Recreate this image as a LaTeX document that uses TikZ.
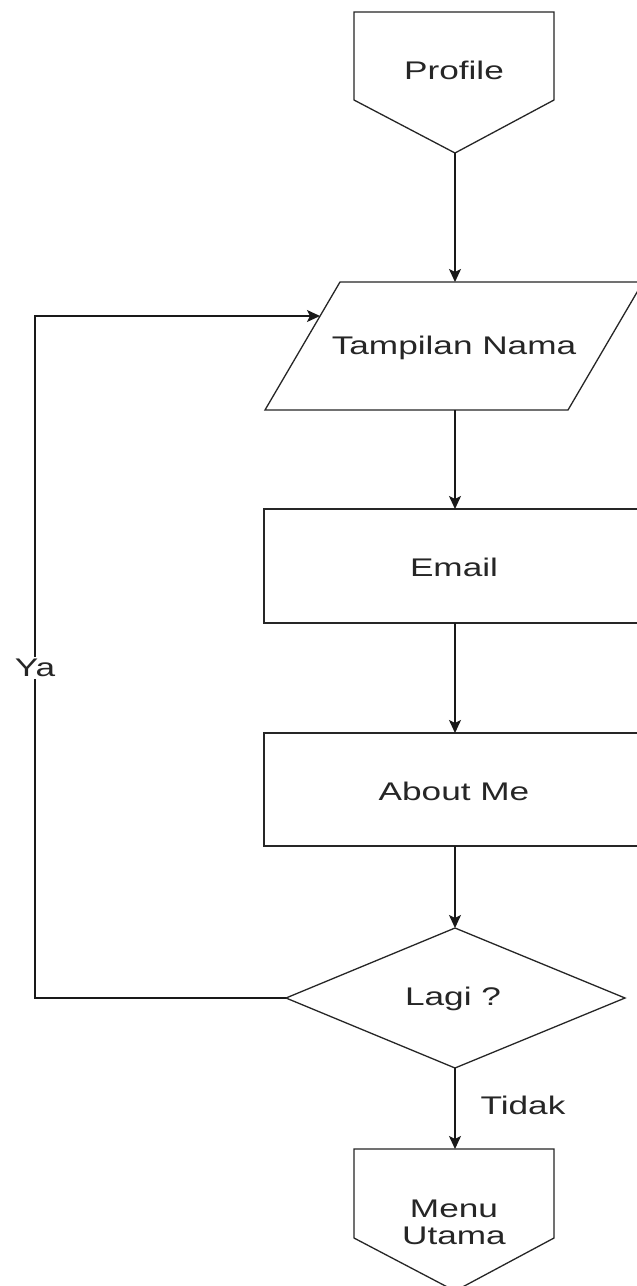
\documentclass[tikz,border=0pt]{standalone}
\usepackage{fontspec}
\setmainfont{Liberation Sans}
\usetikzlibrary{arrows.meta}
\newcommand\sx[1]{\scalebox{1.38}[1]{#1}}
\begin{document}
\begin{tikzpicture}[x=1pt,y=-1pt,
  shapeline/.style={draw=black!85, line width=1.3pt, line join=miter},
  conn/.style={draw=black!90, line width=1.4pt, -{Stealth[length=13pt,width=12pt,inset=3pt]}},
  lbl/.style={text=black!85, font=\fontsize{25.5}{27}\selectfont, inner sep=1pt, align=center},
  edgelbl/.style={lbl, fill=white, inner sep=2pt}]
\clip (0,0) rectangle (637,1286);
\fill[white] (0,0) rectangle (637,1286);
% shapes
\draw[shapeline] (354,12) -- (554,12) -- (554,100) -- (455,153) -- (354,100) -- cycle;
\draw[shapeline] (340,282) -- (643,282) -- (568,410) -- (265,410) -- cycle;
\draw[shapeline] (264,509) rectangle (646,623);
\draw[shapeline] (264,733) rectangle (646,846);
\draw[shapeline] (455,928) -- (625,998) -- (455,1068) -- (286,998) -- cycle;
\draw[shapeline] (354,1149) -- (554,1149) -- (554,1238) -- (455,1291) -- (354,1238) -- cycle;
% text nodes
\node[lbl] (profile) at (454,70) {\sx{Profile}};
\node[lbl] (tampil) at (454,348) {\sx{Tampilan Nama}};
\node[lbl] (email) at (454,567) {\sx{Email}};
\node[lbl] (about) at (454,791) {\sx{About Me}};
\node[lbl] (lagi) at (453,999) {\sx{Lagi ?}};
\node[lbl] (menu) at (454,1222) {\sx{Menu}\\\sx{Utama}};
% anchors
\coordinate (profileB) at (455,153);
\coordinate (tampilT) at (455,282);
\coordinate (tampilB) at (455,410);
\coordinate (tampilL) at (320,316);
\coordinate (emailT) at (455,509);
\coordinate (emailB) at (455,623);
\coordinate (aboutT) at (455,733);
\coordinate (aboutB) at (455,846);
\coordinate (lagiT) at (455,928);
\coordinate (lagiB) at (455,1068);
\coordinate (lagiL) at (286,998);
\coordinate (menuT) at (455,1149);
\coordinate (loopTop) at (35,316);
% connectors
\draw[conn] (profileB) -- (tampilT);
\draw[conn] (tampilB) -- (emailT);
\draw[conn] (emailB) -- (aboutT);
\draw[conn] (aboutB) -- (lagiT);
\draw[conn] (lagiB) -- (menuT);
\draw[conn] (lagiL) -| (loopTop) -- (tampilL);
\node[edgelbl] (ya) at (35,668) {\sx{Ya}};
\node[lbl] (tidak) at (523,1105) {\sx{Tidak}};
\end{tikzpicture}
\end{document}
